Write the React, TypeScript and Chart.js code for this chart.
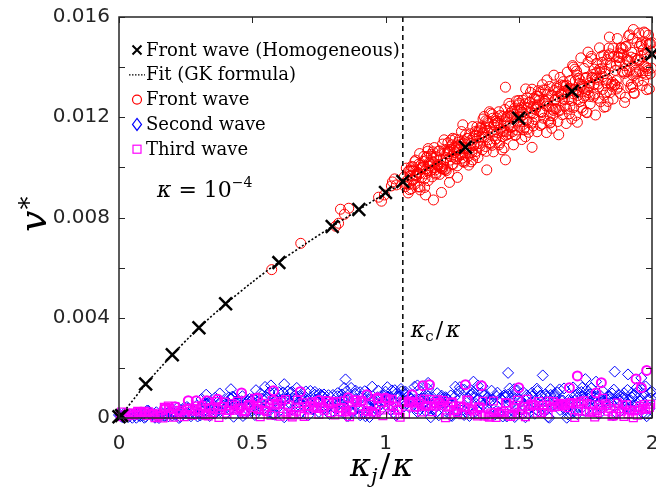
import React, { useEffect, useRef } from 'react';
import { Chart, registerables } from 'chart.js';

Chart.register(...registerables);

// ---------- data ----------
const xTicks = [0, 0.5, 1, 1.5, 2];
const yTicks = [0, 0.002, 0.004, 0.006, 0.008, 0.01, 0.012, 0.014, 0.016];
const yTickLabels = [0, 0.004, 0.008, 0.012, 0.016];
const kappaCRatio = 1.065;

const legendLabels = ['Front wave (Homogeneous)', 'Fit (GK formula)', 'Front wave', 'Second wave', 'Third wave'];

const homogeneousX = [0, 0.01, 0.1, 0.2, 0.3, 0.4, 0.6, 0.8, 0.9, 1.0, 1.065, 1.3, 1.5, 1.7, 2.0];
const homogeneousY = [0.00005, 0.0001, 0.00136, 0.00252, 0.0036, 0.00456, 0.0062, 0.00764, 0.00832, 0.009, 0.00944, 0.0108, 0.01196, 0.01304, 0.01452];

const fitX = [0, 0.1, 0.2, 0.3, 0.4, 0.5, 0.6, 0.7, 0.8, 0.9, 1.0, 1.1, 1.2, 1.3, 1.4, 1.5, 1.6, 1.7, 1.8, 1.9, 2.0];
const fitY = [0, 0.00134, 0.00252, 0.0036, 0.00455, 0.00542, 0.00622, 0.00695, 0.00764, 0.00831, 0.00897, 0.0096, 0.01021, 0.0108, 0.01138, 0.01195, 0.0125, 0.01303, 0.01354, 0.01404, 0.01452];

const frontWaveX = [
  0.573, 0.682, 0.813, 0.824, 0.846, 0.831, 0.862, 0.974, 0.985, 0.996, 1.022, 1.026, 1.034, 1.041,
  1.070, 1.074, 1.078, 1.082, 1.086, 1.090, 1.093, 1.097, 1.101, 1.105,
  1.109, 1.113, 1.117, 1.121, 1.125, 1.129, 1.132, 1.136, 1.140, 1.144,
  1.148, 1.152, 1.156, 1.160, 1.164, 1.168, 1.171, 1.175, 1.179, 1.183,
  1.187, 1.191, 1.195, 1.199, 1.203, 1.207, 1.210, 1.214, 1.218, 1.222,
  1.226, 1.230, 1.234, 1.238, 1.242, 1.246, 1.249, 1.253, 1.257, 1.261,
  1.265, 1.269, 1.273, 1.277, 1.281, 1.285, 1.288, 1.292, 1.296, 1.300,
  1.304, 1.308, 1.312, 1.316, 1.320, 1.324, 1.327, 1.331, 1.335, 1.339,
  1.343, 1.347, 1.351, 1.355, 1.359, 1.363, 1.366, 1.370, 1.374, 1.378,
  1.382, 1.386, 1.390, 1.394, 1.398, 1.402, 1.405, 1.409, 1.413, 1.417,
  1.421, 1.425, 1.429, 1.433, 1.437, 1.441, 1.444, 1.448, 1.452, 1.456,
  1.460, 1.464, 1.468, 1.472, 1.476, 1.480, 1.483, 1.487, 1.491, 1.495,
  1.499, 1.503, 1.507, 1.511, 1.515, 1.519, 1.522, 1.526, 1.530, 1.534,
  1.538, 1.542, 1.546, 1.550, 1.554, 1.558, 1.561, 1.565, 1.569, 1.573,
  1.577, 1.581, 1.585, 1.589, 1.593, 1.597, 1.600, 1.604, 1.608, 1.612,
  1.616, 1.620, 1.624, 1.628, 1.632, 1.636, 1.639, 1.643, 1.647, 1.651,
  1.655, 1.659, 1.663, 1.667, 1.671, 1.675, 1.678, 1.682, 1.686, 1.690,
  1.694, 1.698, 1.702, 1.706, 1.710, 1.714, 1.717, 1.721, 1.725, 1.729,
  1.733, 1.737, 1.741, 1.745, 1.749, 1.753, 1.756, 1.760, 1.764, 1.768,
  1.772, 1.776, 1.780, 1.784, 1.788, 1.792, 1.795, 1.799, 1.803, 1.807,
  1.811, 1.815, 1.819, 1.823, 1.827, 1.831, 1.834, 1.838, 1.842, 1.846,
  1.850, 1.854, 1.858, 1.862, 1.866, 1.870, 1.873, 1.877, 1.881, 1.885,
  1.889, 1.893, 1.897, 1.901, 1.905, 1.909, 1.912, 1.916, 1.920, 1.924,
  1.928, 1.932, 1.936, 1.940, 1.944, 1.948, 1.951, 1.955, 1.959, 1.963,
  1.967, 1.971, 1.975, 1.979, 1.983, 1.987, 1.990, 1.994, 1.998,
  1.072, 1.080, 1.088, 1.095, 1.103, 1.111, 1.119, 1.127, 1.134, 1.142,
  1.150, 1.158, 1.166, 1.173, 1.181, 1.189, 1.197, 1.205, 1.212, 1.220,
  1.228, 1.236, 1.244, 1.251, 1.259, 1.267, 1.275, 1.283, 1.290, 1.298,
  1.306, 1.314, 1.322, 1.329, 1.337, 1.345, 1.353, 1.361, 1.368, 1.376,
  1.384, 1.392, 1.400, 1.407, 1.415, 1.423, 1.431, 1.439, 1.446, 1.454,
  1.462, 1.470, 1.478, 1.485, 1.493, 1.501, 1.509, 1.517, 1.524, 1.532,
  1.540, 1.548, 1.556, 1.563, 1.571, 1.579, 1.587, 1.595, 1.602, 1.610,
  1.618, 1.626, 1.634, 1.641, 1.649, 1.657, 1.665, 1.673, 1.680, 1.688,
  1.696, 1.704, 1.712, 1.719, 1.727, 1.735, 1.743, 1.751, 1.758, 1.766,
  1.774, 1.782, 1.790, 1.797, 1.805, 1.813, 1.821, 1.829, 1.837, 1.844,
  1.852, 1.860, 1.868, 1.876, 1.883, 1.891, 1.899, 1.907, 1.915, 1.922,
  1.930, 1.938, 1.946, 1.954, 1.961, 1.969, 1.977, 1.985, 1.993, 2.000,
  1.085, 1.091, 1.097, 1.104, 1.110, 1.116, 1.122, 1.128, 1.135, 1.141,
  1.147, 1.153, 1.159, 1.166, 1.172, 1.178, 1.184, 1.190, 1.197, 1.203,
  1.209, 1.215, 1.221, 1.228, 1.234, 1.240, 1.246, 1.252, 1.259, 1.265,
  1.271, 1.277, 1.283, 1.290, 1.296, 1.302, 1.308, 1.314, 1.321, 1.327,
  1.333, 1.339, 1.345, 1.352, 1.358, 1.364, 1.370, 1.376, 1.383, 1.389,
  1.395, 1.401, 1.407, 1.414, 1.420, 1.426, 1.432, 1.438, 1.445, 1.451,
  1.457, 1.463, 1.469, 1.476, 1.482, 1.488, 1.494, 1.500, 1.506, 1.513,
  1.519, 1.525, 1.531, 1.537, 1.544, 1.550, 1.556, 1.562, 1.568, 1.575,
  1.581, 1.587, 1.593, 1.599, 1.606, 1.612, 1.618, 1.624, 1.630, 1.637,
  1.643, 1.649, 1.655, 1.661, 1.668, 1.674, 1.680, 1.686, 1.692, 1.699,
  1.705, 1.711, 1.717, 1.723, 1.730, 1.736, 1.742, 1.748, 1.754, 1.761,
  1.767, 1.773, 1.779, 1.785, 1.792, 1.798, 1.804, 1.810, 1.816, 1.823,
  1.829, 1.835, 1.841, 1.847, 1.854, 1.860, 1.866, 1.872, 1.878, 1.885,
  1.891, 1.897, 1.903, 1.909, 1.916, 1.922, 1.928, 1.934, 1.940, 1.947,
  1.953, 1.959, 1.965, 1.971, 1.978, 1.984, 1.990, 1.996,
  1.13, 1.15, 1.18, 1.21, 1.24, 1.27, 1.16, 1.22, 1.29, 1.45,
  1.76, 1.84, 1.93, 1.97, 1.38, 1.45, 1.55, 1.65, 1.72, 1.82,
  1.90, 1.98,
];
const frontWaveY = [
  0.00592, 0.00697, 0.00765, 0.00777, 0.00813, 0.00833, 0.00837, 0.00881, 0.00865, 0.0089, 0.00926, 0.00942, 0.00954, 0.0093,
  0.00962, 0.00923, 0.00997, 0.00949, 0.00985, 0.00911, 0.00968, 0.01003, 0.00948, 0.00987,
  0.00932, 0.01029, 0.00964, 0.0098, 0.01013, 0.00922, 0.01009, 0.0096, 0.01, 0.01044,
  0.00956, 0.00994, 0.01043, 0.00947, 0.0102, 0.00986, 0.01045, 0.00962, 0.0102, 0.01079,
  0.0099, 0.01042, 0.01009, 0.01065, 0.00972, 0.01032, 0.00995, 0.01093, 0.01017, 0.01067,
  0.00993, 0.01055, 0.01098, 0.00978, 0.01071, 0.01043, 0.0109, 0.01011, 0.01067, 0.01113,
  0.01033, 0.01006, 0.011, 0.01071, 0.01049, 0.01143, 0.01037, 0.01096, 0.01026, 0.01129,
  0.01077, 0.01115, 0.01009, 0.01134, 0.01108, 0.01059, 0.01163, 0.01086, 0.01049, 0.01129,
  0.01162, 0.01039, 0.01119, 0.01084, 0.01157, 0.0107, 0.01193, 0.0112, 0.01159, 0.01064,
  0.01147, 0.0111, 0.01222, 0.01093, 0.01142, 0.01196, 0.01062, 0.01169, 0.01113, 0.01197,
  0.01139, 0.01222, 0.01098, 0.01171, 0.0107, 0.01203, 0.01145, 0.01231, 0.01128, 0.01201,
  0.01204, 0.01134, 0.01244, 0.0116, 0.01224, 0.0109, 0.01201, 0.01128, 0.01265, 0.01181,
  0.01249, 0.0116, 0.01227, 0.01111, 0.01268, 0.01211, 0.01159, 0.01313, 0.01187, 0.01235,
  0.0114, 0.0126, 0.01217, 0.01312, 0.01165, 0.01278, 0.01191, 0.0124, 0.01142, 0.01306,
  0.01268, 0.01167, 0.01222, 0.0133, 0.01196, 0.01266, 0.01308, 0.01139, 0.01292, 0.01244,
  0.01323, 0.0118, 0.01287, 0.01206, 0.01368, 0.01234, 0.01271, 0.01322, 0.01183, 0.01229,
  0.01359, 0.01294, 0.0121, 0.01342, 0.01271, 0.01323, 0.01175, 0.0138, 0.01315, 0.01214,
  0.01347, 0.01267, 0.01406, 0.01239, 0.01312, 0.01207, 0.01384, 0.01287, 0.01355, 0.01262,
  0.01437, 0.01331, 0.01227, 0.01395, 0.01285, 0.01359, 0.01218, 0.0142, 0.01326, 0.01253,
  0.01443, 0.01359, 0.01281, 0.01392, 0.01209, 0.01415, 0.01351, 0.01321, 0.01477, 0.01262,
  0.01394, 0.01311, 0.01448, 0.01374, 0.01242, 0.0143, 0.0135, 0.01476, 0.01298, 0.01405,
  0.01324, 0.01273, 0.01443, 0.01387, 0.01346, 0.01514, 0.0132, 0.01424, 0.01295, 0.01479,
  0.01384, 0.0145, 0.01259, 0.01481, 0.01432, 0.01344, 0.01525, 0.01387, 0.01319, 0.01459,
  0.01515, 0.01297, 0.01435, 0.01373, 0.01498, 0.01344, 0.01536, 0.01428, 0.01493, 0.01327,
  0.01469, 0.01403, 0.01536, 0.01371, 0.01453, 0.01528, 0.01313, 0.01494, 0.01396,
  0.00936, 0.00935, 0.00932, 0.00984, 0.01002, 0.00967, 0.0098, 0.00974, 0.00994, 0.01003,
  0.00974, 0.00986, 0.01006, 0.0099, 0.01037, 0.00978, 0.01005, 0.01001, 0.00997, 0.01056,
  0.01039, 0.01054, 0.01029, 0.01014, 0.01082, 0.01035, 0.01087, 0.01052, 0.01051, 0.01102,
  0.01116, 0.01056, 0.01095, 0.01117, 0.01143, 0.01142, 0.01096, 0.01122, 0.01138, 0.01083,
  0.01175, 0.01099, 0.01088, 0.0117, 0.01186, 0.01176, 0.01207, 0.01122, 0.01185, 0.0118,
  0.01164, 0.01217, 0.01163, 0.01237, 0.01149, 0.01256, 0.01238, 0.01182, 0.01254, 0.01152,
  0.01259, 0.01234, 0.01215, 0.01233, 0.0125, 0.01222, 0.01172, 0.01255, 0.01245, 0.01269,
  0.01206, 0.01232, 0.01306, 0.01233, 0.01302, 0.01329, 0.01273, 0.01294, 0.01233, 0.01272,
  0.01314, 0.01294, 0.01345, 0.01368, 0.01335, 0.01324, 0.01278, 0.01355, 0.0131, 0.01337,
  0.01358, 0.01331, 0.01357, 0.01332, 0.01378, 0.01419, 0.01288, 0.01336, 0.01446, 0.01416,
  0.01339, 0.01328, 0.01313, 0.01438, 0.01475, 0.01381, 0.01406, 0.01383, 0.01426, 0.0144,
  0.01365, 0.01387, 0.01428, 0.01386, 0.01486, 0.01347, 0.01401, 0.01386, 0.01373, 0.01498,
  0.00898, 0.00988, 0.00915, 0.00952, 0.01023, 0.0097, 0.00922, 0.01055, 0.00998, 0.01024,
  0.0092, 0.01039, 0.01065, 0.01015, 0.01052, 0.01062, 0.00998, 0.00973, 0.01012, 0.01066,
  0.01006, 0.00994, 0.00991, 0.00987, 0.01067, 0.01064, 0.01109, 0.01116, 0.01059, 0.01082,
  0.0107, 0.0111, 0.01092, 0.01023, 0.0102, 0.01073, 0.01042, 0.01072, 0.01022, 0.0103,
  0.01091, 0.01063, 0.01094, 0.01146, 0.01161, 0.01138, 0.01203, 0.01186, 0.01182, 0.0116,
  0.01216, 0.01211, 0.01141, 0.01113, 0.01179, 0.0109, 0.01153, 0.01144, 0.01078, 0.01142,
  0.01131, 0.01255, 0.01204, 0.01142, 0.01212, 0.01129, 0.01225, 0.01267, 0.01202, 0.0122,
  0.01151, 0.01122, 0.01278, 0.0118, 0.01299, 0.0118, 0.01244, 0.01272, 0.01285, 0.01283,
  0.01301, 0.01219, 0.01309, 0.01263, 0.01349, 0.01185, 0.01177, 0.01156, 0.01227, 0.01271,
  0.01315, 0.01281, 0.01227, 0.0129, 0.01327, 0.01244, 0.01327, 0.01302, 0.01243, 0.01193,
  0.014, 0.01392, 0.01305, 0.0127, 0.01349, 0.01239, 0.01315, 0.01303, 0.0122, 0.01298,
  0.01283, 0.01434, 0.01371, 0.01293, 0.01378, 0.01276, 0.01392, 0.01443, 0.01362, 0.01384,
  0.01299, 0.01263, 0.01453, 0.01332, 0.01476, 0.01331, 0.01408, 0.01441, 0.01456, 0.01453,
  0.01474, 0.01375, 0.01483, 0.01426, 0.01529, 0.01331, 0.01321, 0.01295, 0.0138, 0.01432,
  0.01483, 0.01443, 0.01377, 0.01452, 0.01496, 0.01395, 0.01494, 0.01464,
  0.0091, 0.0089, 0.0087, 0.009, 0.0094, 0.0096, 0.01075, 0.0111, 0.0117, 0.0132,
  0.0146, 0.0152, 0.0155, 0.0154, 0.0099, 0.0103, 0.0108, 0.0113, 0.0118, 0.0124,
  0.0128, 0.0131,
];

const secondWaveX = [
  0, 0.01, 0.02, 0.03, 0.04, 0.05, 0.06, 0.07, 0.08, 0.09,
  0.1, 0.11, 0.12, 0.13, 0.14, 0.15, 0.16, 0.17, 0.18, 0.19,
  0.2, 0.21, 0.22, 0.23, 0.24, 0.25, 0.26, 0.27, 0.28, 0.29,
  0.3, 0.31, 0.32, 0.33, 0.34, 0.35, 0.36, 0.37, 0.38, 0.39,
  0.4, 0.41, 0.42, 0.43, 0.44, 0.45, 0.46, 0.47, 0.48, 0.49,
  0.5, 0.51, 0.52, 0.53, 0.54, 0.55, 0.56, 0.57, 0.58, 0.59,
  0.6, 0.61, 0.62, 0.63, 0.64, 0.65, 0.66, 0.67, 0.68, 0.69,
  0.7, 0.71, 0.72, 0.73, 0.74, 0.75, 0.76, 0.77, 0.78, 0.79,
  0.8, 0.81, 0.82, 0.83, 0.84, 0.85, 0.86, 0.87, 0.88, 0.89,
  0.9, 0.91, 0.92, 0.93, 0.94, 0.95, 0.96, 0.97, 0.98, 0.99,
  1.0, 1.01, 1.02, 1.03, 1.04, 1.05, 1.06, 1.07, 1.08, 1.09,
  1.1, 1.11, 1.12, 1.13, 1.14, 1.15, 1.16, 1.17, 1.18, 1.19,
  1.2, 1.21, 1.22, 1.23, 1.24, 1.25, 1.26, 1.27, 1.28, 1.29,
  1.3, 1.31, 1.32, 1.33, 1.34, 1.35, 1.36, 1.37, 1.38, 1.39,
  1.4, 1.41, 1.42, 1.43, 1.44, 1.45, 1.46, 1.47, 1.48, 1.49,
  1.5, 1.51, 1.52, 1.53, 1.54, 1.55, 1.56, 1.57, 1.58, 1.59,
  1.6, 1.61, 1.62, 1.63, 1.64, 1.65, 1.66, 1.67, 1.68, 1.69,
  1.7, 1.71, 1.72, 1.73, 1.74, 1.75, 1.76, 1.77, 1.78, 1.79,
  1.8, 1.81, 1.82, 1.83, 1.84, 1.85, 1.86, 1.87, 1.88, 1.89,
  1.9, 1.91, 1.92, 1.93, 1.94, 1.95, 1.96, 1.97, 1.98, 1.99,
  2.0,
  0.845, 0.85, 0.42, 0.57, 0.62, 0.95, 1.12, 1.16, 1.33, 1.46, 1.59, 1.75, 1.79, 1.86, 1.91, 1.96,
  0.005, 0.015, 0.025, 0.035, 0.045, 0.055, 0.065, 0.075, 0.085, 0.095,
  0.105, 0.115, 0.125, 0.135, 0.145, 0.155, 0.165, 0.175, 0.185, 0.195,
  0.205, 0.215, 0.225, 0.235, 0.245, 0.255, 0.265, 0.275, 0.285, 0.295,
  0.305, 0.315, 0.325, 0.335, 0.345, 0.355, 0.365, 0.375, 0.385, 0.395,
  0.405, 0.415, 0.425, 0.435, 0.445, 0.455, 0.465, 0.475, 0.485, 0.495,
  0.505, 0.515, 0.525, 0.535, 0.545, 0.555, 0.565, 0.575, 0.585, 0.595,
  0.605, 0.615, 0.625, 0.635, 0.645, 0.655, 0.665, 0.675, 0.685, 0.695,
  0.705, 0.715, 0.725, 0.735, 0.745, 0.755, 0.765, 0.775, 0.785, 0.795,
  0.805, 0.815, 0.825, 0.835, 0.845, 0.855, 0.865, 0.875, 0.885, 0.895,
  0.905, 0.915, 0.925, 0.935, 0.945, 0.955, 0.965, 0.975, 0.985, 0.995,
  1.005, 1.015, 1.025, 1.035, 1.045, 1.055, 1.065, 1.075, 1.085, 1.095,
  1.105, 1.115, 1.125, 1.135, 1.145, 1.155, 1.165, 1.175, 1.185, 1.195,
  1.205, 1.215, 1.225, 1.235, 1.245, 1.255, 1.265, 1.275, 1.285, 1.295,
  1.305, 1.315, 1.325, 1.335, 1.345, 1.355, 1.365, 1.375, 1.385, 1.395,
  1.405, 1.415, 1.425, 1.435, 1.445, 1.455, 1.465, 1.475, 1.485, 1.495,
  1.505, 1.515, 1.525, 1.535, 1.545, 1.555, 1.565, 1.575, 1.585, 1.595,
  1.605, 1.615, 1.625, 1.635, 1.645, 1.655, 1.665, 1.675, 1.685, 1.695,
  1.705, 1.715, 1.725, 1.735, 1.745, 1.755, 1.765, 1.775, 1.785, 1.795,
  1.805, 1.815, 1.825, 1.835, 1.845, 1.855, 1.865, 1.875, 1.885, 1.895,
  1.905, 1.915, 1.925, 1.935, 1.945, 1.955, 1.965, 1.975, 1.985, 1.995,
  0.31, 0.327, 0.344, 0.361, 0.378, 0.395, 0.412, 0.429, 0.446, 0.463,
  0.48, 0.497, 0.514, 0.531, 0.548, 0.565, 0.582, 0.599, 0.616, 0.633,
  0.65, 0.667, 0.684, 0.701, 0.718, 0.735, 0.752, 0.769, 0.786, 0.803,
  0.82, 0.837, 0.854, 0.871, 0.888, 0.905, 0.922, 0.939, 0.956, 0.973,
  0.99, 1.007, 1.024, 1.041, 1.058, 1.075, 1.092, 1.109, 1.126, 1.143,
  1.16, 1.177, 1.194, 1.211, 1.228, 1.245, 1.262, 1.279, 1.296, 1.313,
  1.33, 1.347, 1.364, 1.381, 1.398, 1.415, 1.432, 1.449, 1.466, 1.483,
  1.5, 1.517, 1.534, 1.551, 1.568, 1.585, 1.602, 1.619, 1.636, 1.653,
  1.67, 1.687, 1.704, 1.721, 1.738, 1.755, 1.772, 1.789, 1.806, 1.823,
  1.84, 1.857, 1.874, 1.891, 1.908, 1.925, 1.942, 1.959, 1.976, 1.993,
];
const secondWaveY = [
  0.00012, 0.00005, 0.00018, 0.00009, 0.00015, 0.00001, 0.00011, 0.00016, 0.00007, 0.00013,
  0.00005, 0.00029, 0.00012, 0.00015, 0.00023, 0, 0.00021, 0.00008, 0.00017, 0.00027,
  0.0001, 0.00024, 0.00042, 0.00004, 0.00031, 0.00018, 0.00039, 0.00007, 0.00028, 0.00048,
  0.00021, 0.00047, 0.00029, 0.00056, 0.00008, 0.00037, 0.00018, 0.00064, 0.00027, 0.00049,
  0.00017, 0.00054, 0.00078, 0.00005, 0.00059, 0.00041, 0.00067, 0.0002, 0.00051, 0.00076,
  0.00029, 0.00012, 0.00065, 0.00047, 0.00033, 0.00085, 0.00024, 0.00056, 0.00015, 0.00071,
  0.00046, 0.00068, 0.00003, 0.00076, 0.00059, 0.00033, 0.00089, 0.00043, 0.00019, 0.00065,
  0.00083, 0.0001, 0.00055, 0.00034, 0.00074, 0.00024, 0.00091, 0.00049, 0.0007, 0.00016,
  0.0006, 0.00039, 0.00099, 0.00028, 0.00053, 0.00081, 0.00008, 0.00064, 0.00033, 0.00076,
  0.00044, 0.00086, 0.00021, 0.00058, 0.00004, 0.00071, 0.0004, 0.00083, 0.0003, 0.00066,
  0.00105, 0.00083, 0.00031, 0.00022, 0.0001, 0.00086, 0.00106, 0.00046, 0.00059, 0.00042,
  0.00066, 0.00072, 0.00024, 0.00035, 0.00057, 0.00029, 0.00087, 0.00003, 0.00037, 0.00021,
  0.00011, 0.00081, 0.00054, 0.00066, 0.0003, 0.00008, 0.00084, 0.00023, 0.00078, 0.00033,
  0.00026, 0.0008, 0.0009, 0.00018, 0.00056, 0.00075, 0.00099, 0.00092, 0.00039, 0.00061,
  0.00073, 0.00013, 0.00101, 0.0002, 0.00006, 0.00082, 0.00093, 0.00079, 0.00103, 0.00019,
  0.00074, 0.00065, 0.00047, 0.00091, 0.00037, 0.00101, 0.00017, 0.00108, 0.00089, 0.00036,
  0.00095, 0.00004, 0.00092, 0.00067, 0.00048, 0.0006, 0.0007, 0.00044, 0.00001, 0.00064,
  0.00053, 0.00069, 0.00016, 0.00033, 0.00088, 0.00028, 0.00078, 0.00095, 0.0005, 0.00062,
  0.00015, 0.0004, 0.00068, 0.00051, 0.00084, 0.00098, 0.00071, 0.00061, 0.00026, 0.00077,
  0.00043, 0.00058, 0.0007, 0.00049, 0.00063, 0.00044, 0.00072, 0.00096, 0.00007, 0.00037,
  0.00105,
  0.0012, 0.00154, 0.00115, 0.0013, 0.00135, 0.00125, 0.0013, 0.0014, 0.00145, 0.0018, 0.0017, 0.00155, 0.00145, 0.00185, 0.00174, 0.0016,
  0.00012, 0.00003, 0.00005, 0.00004, 0.00013, 0.00016, 0.00001, 0.00009, 0.0001, 0.00001,
  0.00029, 0.00017, 0.00014, 0.00001, 0.00005, 0.00012, 0.00015, 0.00009, 0.00007, 0.00018,
  0.00019, 0.00015, 0, 0.00021, 0.00042, 0.00044, 0.00014, 0.00031, 0.00014, 0.00006,
  0.0001, 0.00014, 0.00056, 0.00061, 0.00063, 0.00018, 0.00036, 0.00058, 0.00045, 0.00051,
  0.00043, 0.00034, 0.00085, 0.0005, 0.00068, 0.00049, 0.00008, 0.00017, 0.00056, 0.00067,
  0.00077, 0.0003, 0.00032, 0.00078, 0.00071, 0.00082, 0.00052, 0.00015, 0.00013, 0.00059,
  0.00071, 0.00073, 0.00075, 0.00042, 0.00102, 0.00078, 0.0008, 0.00063, 0.00087, 0.00079,
  0.0007, 0.0006, 0.00035, 0.00104, 0.00069, 0.00072, 0.00084, 0.00033, 0.00045, 0.00056,
  0.00025, 0.00061, 0.00056, 0.00075, 0.00068, 0.00008, 0.00046, 0.00021, 0.00097, 0.00039,
  0.00011, 0.00034, 0.00007, 0.00088, 0.00074, 0.00028, 0.00036, 0.00047, 0.00085, 0.00066,
  0.0008, 0.00082, 0.00046, 0.00111, 0.00086, 0.00088, 0.00069, 0.00096, 0.00087, 0.00077,
  0.00065, 0.00038, 0.00113, 0.00076, 0.00079, 0.00092, 0.00037, 0.00049, 0.00061, 0.00028,
  0.00067, 0.00061, 0.00083, 0.00074, 0.00009, 0.0005, 0.00023, 0.00106, 0.00042, 0.00012,
  0.00037, 0.00008, 0.00096, 0.00081, 0.00031, 0.00039, 0.00051, 0.00094, 0.00072, 0.00069,
  0.0002, 0.00027, 0.00024, 0.00073, 0.0009, 0.00006, 0.00053, 0.00057, 0.00004, 0.0011,
  0.00064, 0.00052, 0.00003, 0.00018, 0.00046, 0.00059, 0.00035, 0.00025, 0.00068, 0.00045,
  0.00034, 0.00001, 0.00048, 0.00097, 0.00102, 0.00032, 0.0007, 0.00032, 0.00014, 0.00016,
  0.00022, 0.00093, 0.00101, 0.00104, 0.00029, 0.0006, 0.00095, 0.00073, 0.00084, 0.00055,
  0.00044, 0.00108, 0.00063, 0.00088, 0.00062, 0.0001, 0.00021, 0.00071, 0.00085, 0.00099,
  0.00038, 0.00041, 0.00099, 0.00091, 0.00105, 0.00066, 0.00019, 0.00017, 0.00075, 0.00078,
  0.00076, 0.00093, 0.00055, 0.00081, 0.00098, 0.00059, 0.00082, 0.00084, 0.00073, 0.00087,
  0.00072, 0.00071, 0.00111, 0.00097, 0.00124, 0.00104, 0.001, 0.00103, 0.00102, 0.00106,
  0.00105, 0.0012, 0.00078, 0.00106, 0.00108, 0.00093, 0.00096, 0.00094, 0.00091, 0.00092,
  0.00087, 0.00094, 0.00106, 0.0012, 0.00109, 0.00103, 0.00107, 0.00075, 0.0007, 0.00109,
  0.0009, 0.00123, 0.0011, 0.00098, 0.00116, 0.00105, 0.00083, 0.00125, 0.00074, 0.00077,
  0.00116, 0.00082, 0.00099, 0.00089, 0.00079, 0.0009, 0.00125, 0.00123, 0.00113, 0.00108,
  0.00101, 0.00129, 0.00127, 0.00081, 0.00109, 0.00088, 0.00079, 0.00086, 0.00118, 0.00115,
  0.00073, 0.00103, 0.00084, 0.00088, 0.00117, 0.0009, 0.00087, 0.00115, 0.00084, 0.00114,
  0.00118, 0.00072, 0.00122, 0.00082, 0.00121, 0.00112, 0.00119, 0.00085, 0.0009, 0.00072,
  0.00075, 0.00113, 0.00093, 0.0008, 0.00112, 0.00082, 0.0012, 0.00117, 0.00126, 0.00102,
];

const thirdWaveX = [
  0.005, 0.015, 0.025, 0.035, 0.045, 0.055, 0.065, 0.075, 0.085, 0.095,
  0.105, 0.115, 0.125, 0.135, 0.145, 0.155, 0.165, 0.175, 0.185, 0.195,
  0.205, 0.215, 0.225, 0.235, 0.245, 0.255, 0.265, 0.275, 0.285, 0.295,
  0.305, 0.315, 0.325, 0.335, 0.345, 0.355, 0.365, 0.375, 0.385, 0.395,
  0.405, 0.415, 0.425, 0.435, 0.445, 0.455, 0.465, 0.475, 0.485, 0.495,
  0.505, 0.515, 0.525, 0.535, 0.545, 0.555, 0.565, 0.575, 0.585, 0.595,
  0.605, 0.615, 0.625, 0.635, 0.645, 0.655, 0.665, 0.675, 0.685, 0.695,
  0.705, 0.715, 0.725, 0.735, 0.745, 0.755, 0.765, 0.775, 0.785, 0.795,
  0.805, 0.815, 0.825, 0.835, 0.845, 0.855, 0.865, 0.875, 0.885, 0.895,
  0.905, 0.915, 0.925, 0.935, 0.945, 0.955, 0.965, 0.975, 0.985, 0.995,
  1.005, 1.015, 1.025, 1.035, 1.045, 1.055, 1.065, 1.075, 1.085, 1.095,
  1.105, 1.115, 1.125, 1.135, 1.145, 1.155, 1.165, 1.175, 1.185, 1.195,
  1.205, 1.215, 1.225, 1.235, 1.245, 1.255, 1.265, 1.275, 1.285, 1.295,
  1.305, 1.315, 1.325, 1.335, 1.345, 1.355, 1.365, 1.375, 1.385, 1.395,
  1.405, 1.415, 1.425, 1.435, 1.445, 1.455, 1.465, 1.475, 1.485, 1.495,
  1.505, 1.515, 1.525, 1.535, 1.545, 1.555, 1.565, 1.575, 1.585, 1.595,
  1.605, 1.615, 1.625, 1.635, 1.645, 1.655, 1.665, 1.675, 1.685, 1.695,
  1.705, 1.715, 1.725, 1.735, 1.745, 1.755, 1.765, 1.775, 1.785, 1.795,
  1.805, 1.815, 1.825, 1.835, 1.845, 1.855, 1.865, 1.875, 1.885, 1.895,
  1.905, 1.915, 1.925, 1.935, 1.945, 1.955, 1.965, 1.975, 1.985, 1.995,
  0.01, 0.03, 0.05, 0.07, 0.09, 0.11, 0.13, 0.15, 0.17, 0.19,
  0.21, 0.23, 0.25, 0.27, 0.29, 0.31, 0.33, 0.35, 0.37, 0.39,
  0.41, 0.43, 0.45, 0.47, 0.49, 0.51, 0.53, 0.55, 0.57, 0.59,
  0.61, 0.63, 0.65, 0.67, 0.69, 0.71, 0.73, 0.75, 0.77, 0.79,
  0.81, 0.83, 0.85, 0.87, 0.89, 0.91, 0.93, 0.95, 0.97, 0.99,
  1.01, 1.03, 1.05, 1.07, 1.09, 1.11, 1.13, 1.15, 1.17, 1.19,
  1.21, 1.23, 1.25, 1.27, 1.29, 1.31, 1.33, 1.35, 1.37, 1.39,
  1.41, 1.43, 1.45, 1.47, 1.49, 1.51, 1.53, 1.55, 1.57, 1.59,
  1.61, 1.63, 1.65, 1.67, 1.69, 1.71, 1.73, 1.75, 1.77, 1.79,
  1.81, 1.83, 1.85, 1.87, 1.89, 1.91, 1.93, 1.95, 1.97, 1.99,
];
const thirdWaveY = [
  0.00013, 0.00005, 0.00008, 0.00019, 0.0002, 0.00011, 0.00014, 0.00022, 0.00024, 0.00027,
  0.0001, 0.00018, 0.00019, 0.00001, 0.00007, 0.00017, 0, 0.00042, 0.00048, 0.00013,
  0.00003, 0.00016, 0.00031, 0.0003, 0.00005, 0.00035, 0.0004, 0.0001, 0.00033, 0.00027,
  0.00036, 0.00014, 0.0001, 0.00008, 0.00042, 0.0004, 0.00066, 0.00002, 0.00045, 0.00064,
  0.00019, 0.00031, 0.00058, 0.00051, 0.00067, 0.00041, 0.00025, 0.00029, 0.00049, 0.00052,
  0.00041, 0.00037, 0.00034, 0.00059, 0.00031, 0.00026, 0.00057, 0.0007, 0.00051, 0.00055,
  0.00007, 0.00024, 0.00074, 0.00052, 0.00011, 0.00014, 0.00027, 0.00044, 0.00013, 0.00006,
  0.00046, 0.00049, 0.00065, 0.0006, 0.00038, 0.00044, 0.00043, 0.00069, 0.00068, 0.00021,
  0.00061, 0.00066, 0.00039, 0.00042, 0.00069, 0.00024, 0.00005, 0.00032, 0.00072, 0.00062,
  0.00064, 0.00015, 0.00017, 0.00029, 0.00054, 0.00015, 0.00019, 0.00079, 0.00061, 0.00032,
  0.00077, 0.00069, 0.00075, 0.00015, 0.00031, 0.00003, 0.00065, 0.00016, 0.00064, 0.0006,
  0.00063, 0.00044, 0.00065, 0.00024, 0.00076, 0.0005, 0.00074, 0.00025, 0.00061, 0.00073,
  0.00061, 0.0007, 0.00001, 0.00044, 0.00048, 0.00029, 0.00034, 0.00048, 0.00046, 0.00043,
  0.00072, 0.00033, 0.00036, 0.00014, 0.00008, 0.00042, 0.00067, 0.00013, 0.00007, 0.0002,
  0.00068, 0.00002, 0.00019, 0.00026, 0.00019, 0.0006, 0.00012, 0.00015, 0.00041, 0.00071,
  0.00013, 0.00017, 0.00005, 0.00046, 0.00053, 0.00052, 0.00049, 0.00066, 0.00022, 0.00032,
  0.00051, 0.00067, 0.00043, 0.00045, 0.00054, 0.00059, 0.00051, 0.00049, 0.00041, 0.00062,
  0.00057, 0.00057, 0.00027, 0.00056, 0.00069, 0.00058, 0.00023, 0.00024, 0.00004, 0.00021,
  0.00052, 0.00079, 0.00057, 0.00027, 0.00038, 0.00009, 0.00017, 0.00037, 0.00027, 0.00006,
  0.00053, 0.00032, 0.00028, 0.00031, 0.00011, 0.00047, 0.00039, 0.00035, 0.00035, 0.00055,
  0.00024, 0.00009, 0.00016, 0.00027, 0.0002, 0.00025, 0.00014, 0.0001, 0.00043, 0.00038,
  0.00046, 0.00023, 0.00014, 0.00027, 0.00048, 0.0005, 0.00017, 0.00021, 0.00034, 0.00046,
  0.0003, 0.00031, 0.00036, 0.00018, 0.00055, 0.00079, 0.00005, 0.00044, 0.00011, 0.00059,
  0.00067, 0.00016, 0.00004, 0.00071, 0.00061, 0.00032, 0.00043, 0.00014, 0.00031, 0.00058,
  0.00012, 0.00025, 0.00027, 0.00032, 0.00072, 0.00069, 0.00027, 0.00026, 0.00076, 0.00009,
  0.00049, 0.00048, 0.00035, 0.00062, 0.00068, 0.00044, 0.00057, 0.00046, 0.00048, 0.00047,
  0.00051, 0.00013, 0.00064, 0.00021, 0.00013, 0.0007, 0.00028, 0.00045, 0.00008, 0.00003,
  0.00023, 0.00015, 0.00061, 0.00006, 0.00051, 0.00033, 0.00075, 0.00056, 0.00019, 0.0005,
  0.00017, 0.00066, 0.00046, 0.00055, 0.00057, 0.00002, 0.00065, 0.00027, 0.00053, 0.00029,
  0.00039, 0.00049, 0.00007, 0.0006, 0.00052, 0.00017, 0.00001, 0.00031, 0.00054, 0.00042,
];

const thirdWaveCircleX = [0.17, 0.21, 0.26, 0.29, 0.33, 0.37, 0.46, 0.52, 0.58, 0.68, 0.75, 0.86, 0.93, 0.97, 1.0, 1.1, 1.14, 1.165, 1.2, 1.25, 1.3, 1.36, 1.5, 1.69, 1.72, 1.79, 1.81, 1.94, 1.96, 1.98];
const thirdWaveCircleY = [0.00035, 0.00045, 0.00069, 0.00069, 0.00069, 0.00075, 0.001, 0.0008, 0.00109, 0.00105, 0.0007, 0.00081, 0.00093, 0.00081, 0.0008, 0.00093, 0.00129, 0.00133, 0.0006, 0.0006, 0.00133, 0.00129, 0.00121, 0.00121, 0.00168, 0.001, 0.00141, 0.00156, 0.00121, 0.0019];

// ---------- helpers ----------
const toPoints = (xs: number[], ys: number[]) => {
  const n = Math.min(xs.length, ys.length);
  const out: { x: number; y: number }[] = [];
  for (let i = 0; i < n; i++) out.push({ x: xs[i], y: ys[i] });
  return out;
};

const AX = '#262626';
const RED = 'rgb(255,0,0)';
const BLUE = 'rgb(0,0,255)';
const MAG = 'rgb(255,0,255)';
const SERIF = '"DejaVu Serif", serif';

type Run = [string, string, number, number?];
function drawRuns(ctx: CanvasRenderingContext2D, x: number, y: number, runs: Run[]) {
  let cx = x;
  for (const [t, f, dy, gap] of runs) {
    ctx.font = f;
    ctx.fillText(t, cx, y + dy);
    cx += ctx.measureText(t).width + (gap || 0);
  }
}

const decor = {
  id: 'decor',
  afterDatasetsDraw(chart: any) {
    const { ctx, chartArea: a, scales } = chart;
    const xs = scales.x;
    const ys = scales.y;
    ctx.save();
    ctx.strokeStyle = AX;
    ctx.lineWidth = 1;
    ctx.setLineDash([]);
    ctx.beginPath();
    for (const v of xTicks) {
      const px = Math.round(xs.getPixelForValue(v)) + 0.5;
      ctx.moveTo(px, a.bottom); ctx.lineTo(px, a.bottom - 6);
      ctx.moveTo(px, a.top); ctx.lineTo(px, a.top + 6);
    }
    for (const v of yTicks) {
      const py = Math.round(ys.getPixelForValue(v)) + 0.5;
      ctx.moveTo(a.left, py); ctx.lineTo(a.left + 6, py);
      ctx.moveTo(a.right, py); ctx.lineTo(a.right - 6, py);
    }
    ctx.stroke();
    ctx.lineWidth = 1.5;
    ctx.strokeRect(a.left, a.top, a.right - a.left, a.bottom - a.top);
    ctx.restore();
  },
  afterDraw(chart: any) {
    const { ctx, chartArea: a, scales } = chart;
    const xs = scales.x;
    ctx.save();
    // legend
    const lx = a.left + 18;
    const tx = a.left + 27;
    const rowY = (i: number) => a.top + 33 + 24.8 * i;
    ctx.textBaseline = 'middle';
    ctx.textAlign = 'left';
    ctx.fillStyle = '#000';
    ctx.font = `18px ${SERIF}`;
    legendLabels.forEach((t, i) => ctx.fillText(t, tx, rowY(i) + 1));
    let y0 = rowY(0);
    ctx.strokeStyle = '#000';
    ctx.lineWidth = 2;
    ctx.beginPath();
    ctx.moveTo(lx - 4.5, y0 - 4.5); ctx.lineTo(lx + 4.5, y0 + 4.5);
    ctx.moveTo(lx - 4.5, y0 + 4.5); ctx.lineTo(lx + 4.5, y0 - 4.5);
    ctx.stroke();
    y0 = rowY(1);
    ctx.lineWidth = 1.2;
    ctx.setLineDash([1.5, 1.5]);
    ctx.beginPath(); ctx.moveTo(lx - 8, y0); ctx.lineTo(lx + 8, y0); ctx.stroke();
    ctx.setLineDash([]);
    y0 = rowY(2);
    ctx.strokeStyle = RED; ctx.lineWidth = 1.2;
    ctx.beginPath(); ctx.arc(lx, y0, 4.5, 0, Math.PI * 2); ctx.stroke();
    y0 = rowY(3);
    ctx.strokeStyle = BLUE;
    ctx.beginPath(); ctx.moveTo(lx, y0 - 6); ctx.lineTo(lx + 4.5, y0); ctx.lineTo(lx, y0 + 6); ctx.lineTo(lx - 4.5, y0); ctx.closePath(); ctx.stroke();
    y0 = rowY(4);
    ctx.strokeStyle = MAG;
    ctx.strokeRect(lx - 4, y0 - 4, 8, 8);

    // annotations
    ctx.fillStyle = '#000';
    ctx.textBaseline = 'alphabetic';
    drawRuns(ctx, 157, 197, [
      ['κ', `italic 22px ${SERIF}`, 0, 0],
      [' = ', `22px ${SERIF}`, 0],
      ['10', `22px ${SERIF}`, 0],
      ['−4', `14px ${SERIF}`, -10],
    ]);
    const kx = xs.getPixelForValue(kappaCRatio);
    drawRuns(ctx, kx + 8, 337, [
      ['κ', `italic 22px ${SERIF}`, 0],
      ['c', `15px ${SERIF}`, 4, 2],
      ['/', `22px ${SERIF}`, 0, 3],
      ['κ', `italic 22px ${SERIF}`, 0],
    ]);
    // x title
    drawRuns(ctx, 350, 476, [
      ['κ', `italic 32px ${SERIF}`, 0],
      ['j', `italic 21px ${SERIF}`, 7, 2],
      ['/', `32px ${SERIF}`, 0, 2],
      ['κ', `italic 32px ${SERIF}`, 0],
    ]);
    // y title
    ctx.translate(46, 232);
    ctx.rotate(-Math.PI / 2);
    drawRuns(ctx, 0, 0, [
      ['v', `italic 38px ${SERIF}`, 0, 1],
      ['*', `26px ${SERIF}`, -8],
    ]);
    ctx.restore();
  },
};

export default function App() {
  const ref = useRef<HTMLCanvasElement>(null);
  useEffect(() => {
    document.body.style.margin = '0';
    const canvas = ref.current;
    if (!canvas) return;
    const common = { showLine: false, clip: false as any };
    const chart = new Chart(canvas, {
      type: 'scatter',
      data: {
        datasets: [
          {
            label: legendLabels[0], data: toPoints(homogeneousX, homogeneousY), ...common, order: 0,
            pointStyle: 'crossRot', pointRadius: 9, borderColor: '#000', backgroundColor: '#000', pointBorderWidth: 2.5,
          },
          {
            label: legendLabels[1], data: toPoints(fitX, fitY), showLine: true, clip: false as any, order: 1,
            borderColor: '#000', borderWidth: 1.6, borderDash: [2, 2], pointRadius: 0, tension: 0.3,
          },
          {
            label: 'kc', data: [{ x: kappaCRatio, y: 0 }, { x: kappaCRatio, y: 0.016 }], showLine: true, order: 2,
            borderColor: '#000', borderWidth: 1.5, borderDash: [5, 4], pointRadius: 0,
          },
          {
            label: legendLabels[4] + ' o', data: toPoints(thirdWaveCircleX, thirdWaveCircleY), ...common, order: 3,
            pointStyle: 'circle', pointRadius: 4.5, borderColor: MAG, backgroundColor: 'rgba(0,0,0,0)', pointBorderWidth: 2,
          },
          {
            label: legendLabels[4], data: toPoints(thirdWaveX, thirdWaveY), ...common, order: 4,
            pointStyle: 'rect', pointRadius: 5.5, borderColor: MAG, backgroundColor: 'rgba(0,0,0,0)', pointBorderWidth: 1.3,
          },
          {
            label: legendLabels[3], data: toPoints(secondWaveX, secondWaveY), ...common, order: 5,
            pointStyle: 'rectRot', pointRadius: 5.5, borderColor: BLUE, backgroundColor: 'rgba(0,0,0,0)', pointBorderWidth: 1,
          },
          {
            label: legendLabels[2], data: toPoints(frontWaveX, frontWaveY), ...common, order: 6,
            pointStyle: 'circle', pointRadius: 5, borderColor: RED, backgroundColor: 'rgba(0,0,0,0)', pointBorderWidth: 1,
          },
        ],
      },
      options: {
        animation: false,
        responsive: false,
        events: [],
        layout: { padding: { top: 17, right: 4, left: 0, bottom: 0 }, autoPadding: false },
        plugins: { legend: { display: false }, tooltip: { enabled: false } },
        scales: {
          x: {
            type: 'linear', min: 0, max: 2,
            grid: { display: false, drawTicks: false },
            border: { display: false },
            afterBuildTicks: (s: any) => { s.ticks = xTicks.map((v) => ({ value: v })); },
            afterFit: (s: any) => { s.height = 74; s.paddingLeft = 0; s.paddingRight = 0; },
            ticks: {
              font: { family: 'DejaVu Sans', size: 20 }, color: AX, padding: 14, maxRotation: 0, autoSkip: false,
              callback: (v: any) => String(v),
            },
          },
          y: {
            type: 'linear', min: 0, max: 0.016,
            grid: { display: false, drawTicks: false },
            border: { display: false },
            afterBuildTicks: (s: any) => { s.ticks = yTicks.map((v) => ({ value: v })); },
            afterFit: (s: any) => { s.width = 119; s.paddingTop = 0; s.paddingBottom = 0; },
            ticks: {
              font: { family: 'DejaVu Sans', size: 20 }, color: AX, padding: 9, autoSkip: false,
              callback: (v: any) => (yTickLabels.includes(v) ? String(v) : ''),
            },
          },
        },
      } as any,
      plugins: [decor],
    });
    return () => chart.destroy();
  }, []);
  return (
    <div style={{ width: 656, height: 492 }}>
      <canvas ref={ref} width={656} height={492} style={{ display: 'block' }} />
    </div>
  );
}
